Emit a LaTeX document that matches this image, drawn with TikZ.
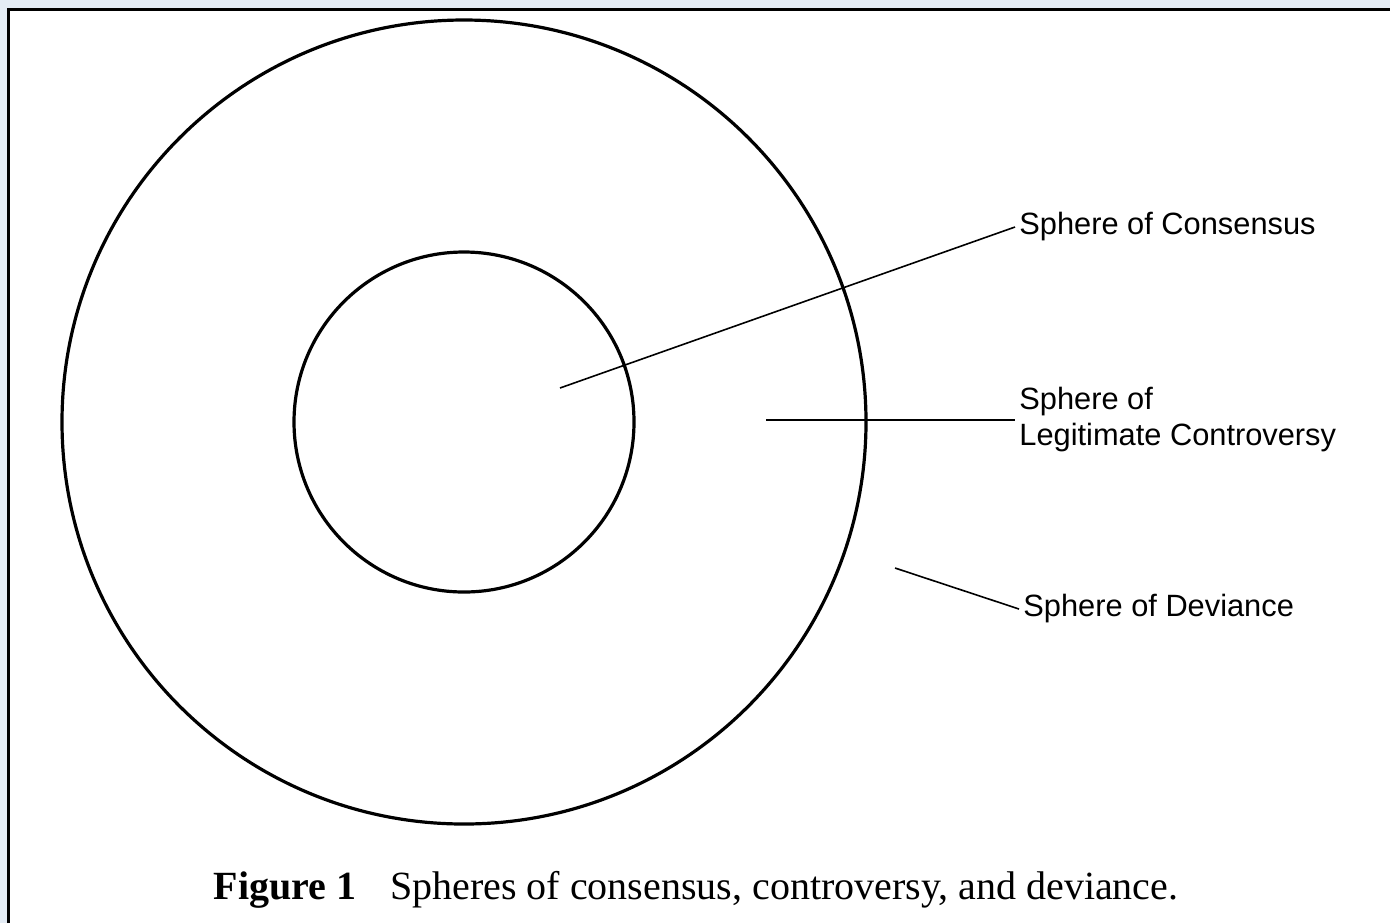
\documentclass[tikz,border=0pt]{standalone}
\usepackage{fontspec}
\setmainfont{Liberation Serif}
\newfontfamily\labelfont{Liberation Sans}
\definecolor{pageblue}{RGB}{228,236,245}
\tikzset{
  sphere/.style={line width=1.6pt, draw=black},
  leader/.style={line width=0.8pt, draw=black},
  spherelabel/.style={anchor=west, inner sep=2pt, align=left,
    font=\labelfont\fontsize{15.4pt}{18pt}\selectfont}
}
\begin{document}
\begin{tikzpicture}[x=0.5pt, y=-0.5pt]
        \def\outerr{402} % radius of the outer sphere
        \def\innerr{170} % radius of the inner sphere

        % page and frame
        \useasboundingbox (0,0) rectangle (1390,923);
        \fill[pageblue] (0,0) rectangle (1390,923);
        \fill[white] (8,9) rectangle (1390,923);
        \draw[line width=1.5pt] (8,923) -- (8,9) -- (1390,9);

        % the two spheres
        \coordinate (centre) at (464,422);
        \draw[sphere] (centre) circle (\outerr);
        \draw[sphere] (centre) circle (\innerr);

        % labels
        \node[spherelabel] (consensus) at (1015,227) {Sphere of Consensus};
        \node[spherelabel] (controversy) at (1015,420) {Sphere of\\Legitimate Controversy};
        \node[spherelabel] (deviance) at (1019,609) {Sphere of Deviance};

        % free ends of the leaders
        \coordinate (inconsensus) at (560,388);
        \coordinate (incontroversy) at (766,420);
        \coordinate (indeviance) at (895,568);

        \draw[leader] (inconsensus) -- (consensus.west);
        \draw[leader] (incontroversy) -- (controversy.west);
        \draw[leader] (indeviance) -- (deviance.west);

        % caption
        \node[font=\fontsize{20pt}{24pt}\selectfont] (caption) at (696,890)
          {\textbf{Figure 1}\hspace{0.85em}Spheres of consensus, controversy, and deviance.};
\end{tikzpicture}
\end{document}
